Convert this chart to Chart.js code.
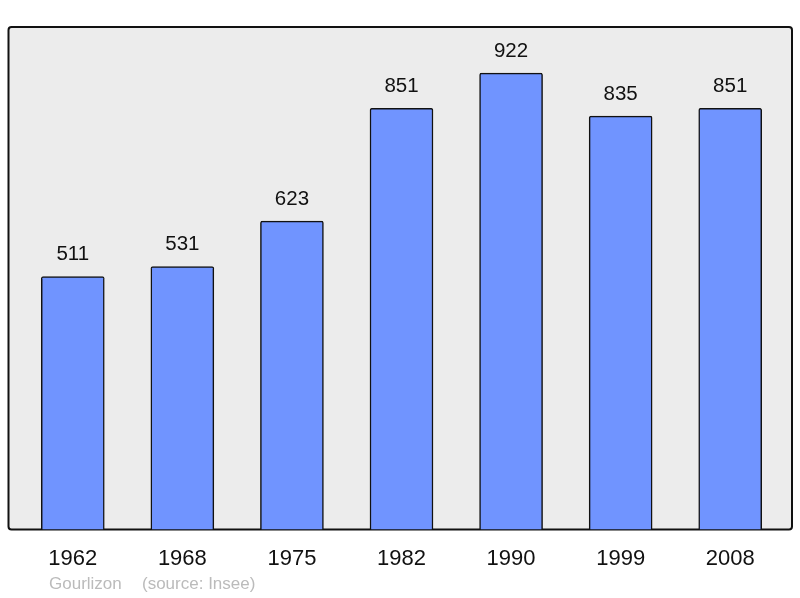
<!DOCTYPE html>
<html lang="fr">
<head>
  <meta charset="UTF-8" />
  <title>Population de Gourlizon</title>
  <script src="https://cdn.jsdelivr.net/npm/chart.js"></script>
  <style>
    body { margin: 0; background: #fff; }
    .wrap { position: relative; width: 800px; height: 598px; }
  </style>
</head>
<body>
<div class="wrap">
  <canvas id="popChart" width="800" height="598"></canvas>
</div>
<script>
// données
const years = ['1962', '1968', '1975', '1982', '1990', '1999', '2008'];
const population = [511, 531, 623, 851, 922, 835, 851];
const footerAuthor = 'Gourlizon';
const footerSource = '(source: Insee)';

// fond gris + cadre noir autour de la zone du graphique
const framePlugin = {
  id: 'frame',
  beforeDraw(chart) {
    const c = chart.ctx;
    const a = chart.chartArea;
    const x = a.left - 9.5, y = a.top, w = (a.right + 7) - x, h = a.bottom - y;
    c.save();
    c.beginPath();
    c.roundRect(x, y, w, h, 3);
    c.fillStyle = '#ececec';
    c.fill();
    c.lineWidth = 2;
    c.strokeStyle = '#111';
    c.stroke();
    c.restore();
  }
};

// valeurs au-dessus des barres + pied de page
const labelPlugin = {
  id: 'labels',
  afterDatasetsDraw(chart) {
    const c = chart.ctx;
    const meta = chart.getDatasetMeta(0);
    c.save();
    c.font = '20.5px "Liberation Sans", Arial, sans-serif';
    c.fillStyle = '#111';
    c.textAlign = 'center';
    c.textBaseline = 'middle';
    meta.data.forEach((bar, i) => {
      c.fillText(String(population[i]), bar.x, bar.y - 22);
    });
    c.font = '17px "Liberation Sans", Arial, sans-serif';
    c.fillStyle = '#bbbbbb';
    c.textAlign = 'left';
    c.fillText(footerAuthor, 49, 584);
    c.fillText(footerSource, 142, 584);
    c.restore();
  }
};

new Chart(document.getElementById('popChart'), {
  type: 'bar',
  data: {
    labels: years,
    datasets: [{
      data: population,
      backgroundColor: '#7094ff',
      borderColor: '#111',
      borderWidth: 1.5,
      borderSkipped: 'bottom',
      borderRadius: 2,
      barThickness: 63
    }]
  },
  options: {
    responsive: false,
    animation: false,
    layout: { padding: { left: 18, right: 15, top: 27, bottom: 10 } },
    plugins: { legend: { display: false }, tooltip: { enabled: false } },
    scales: {
      x: {
        grid: { display: false, drawTicks: false },
        border: { display: false },
        ticks: {
          color: '#111',
          padding: 16,
          font: { size: 22, family: '"Liberation Sans", Arial, sans-serif' }
        }
      },
      y: {
        display: false,
        min: 0,
        max: 1015
      }
    }
  },
  plugins: [framePlugin, labelPlugin]
});
</script>
</body>
</html>
